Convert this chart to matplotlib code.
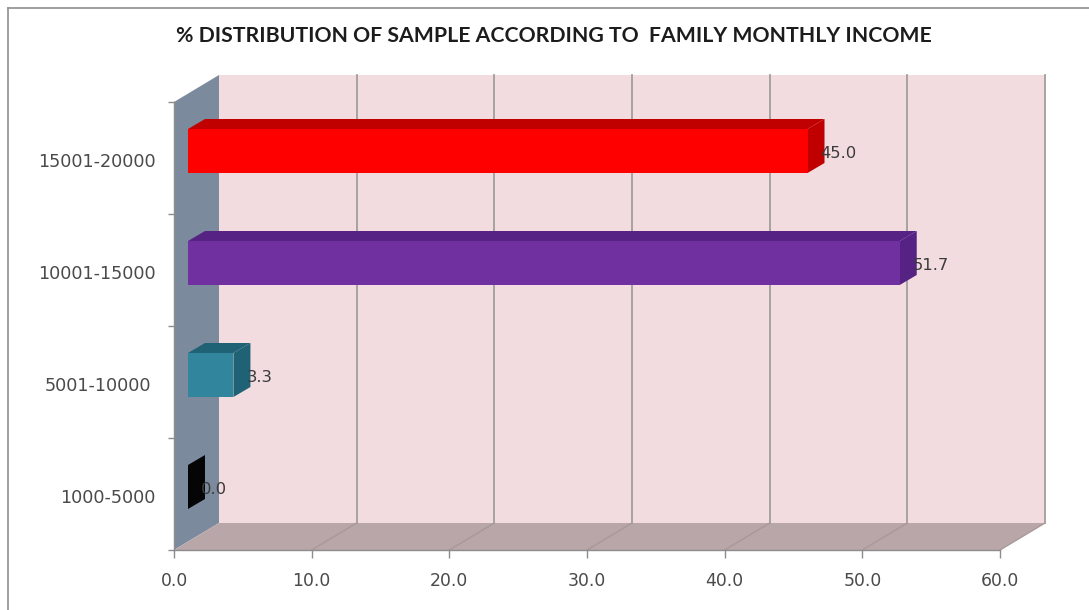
import matplotlib.pyplot as plt
from matplotlib.lines import Line2D

plt.rcParams['font.family'] = ['DejaVu Sans']

categories = ['1000-5000', '5001-10000', '10001-15000', '15001-20000']
values = [0.0, 3.3, 51.7, 45.0]
front_colours = ['#0a0a0a', '#31859c', '#7030a0', '#ff0000']
shade_colours = ['#050505', '#1f6175', '#562385', '#c00000']
x_ticks = [0, 10, 20, 30, 40, 50, 60]

W, H = 1089, 610
LEFT, RIGHT, TOP, BOTTOM = 174, 1000, 102, 550

fig = plt.figure(figsize=(W / 100, H / 100), dpi=100, facecolor='white')
ax = fig.add_axes([LEFT / W, 1 - BOTTOM / H, (RIGHT - LEFT) / W, (BOTTOM - TOP) / H])
ax.set_xlim(0, 60)
ax.set_ylim(0, 4)

# pixels to data units, the 3d depth is easier to think about in pixels
px = 60 / (RIGHT - LEFT)
py = 4 / (BOTTOM - TOP)
wall_dx, wall_dy = 45 * px, 27 * py
bar_dx, bar_dy = 17 * px, 10 * py
inset_x, inset_y = 14 * px, 7 * py
bar_h = 44 * py

wall = '#f3dcdf'
floor = '#b9a6a8'
side = '#7b8b9d'
grid = '#a09e9e'

# back wall, side wall and floor
ax.fill([wall_dx, 60 + wall_dx, 60 + wall_dx, wall_dx],
        [wall_dy, wall_dy, 4 + wall_dy, 4 + wall_dy],
        color=wall, lw=0, clip_on=False, zorder=1)
ax.fill([0, wall_dx, wall_dx, 0], [0, wall_dy, 4 + wall_dy, 4],
        color=side, lw=0, clip_on=False, zorder=1)
ax.fill([0, 60, 60 + wall_dx, wall_dx], [0, 0, wall_dy, wall_dy],
        color=floor, lw=0, clip_on=False, zorder=1)

for t in x_ticks[1:]:
    ax.plot([t + wall_dx, t + wall_dx], [wall_dy, 4 + wall_dy], color=grid,
            lw=1.3, clip_on=False, zorder=2)
    ax.plot([t, t + wall_dx], [0, wall_dy], color='#aa9899', lw=1.0,
            clip_on=False, zorder=2)

# bars, front face plus top and end faces
for i, (v, c, s) in enumerate(zip(values, front_colours, shade_colours)):
    x0 = inset_x
    x1 = v + inset_x
    y0 = i + 0.5 + inset_y - bar_h / 2
    y1 = y0 + bar_h
    ax.fill([x0, x1, x1 + bar_dx, x0 + bar_dx],
            [y1, y1, y1 + bar_dy, y1 + bar_dy], color=s, lw=0, clip_on=False, zorder=3)
    ax.fill([x1, x1 + bar_dx, x1 + bar_dx, x1],
            [y0, y0 + bar_dy, y1 + bar_dy, y1], color=s, lw=0, clip_on=False, zorder=3)
    ax.fill([x0, x1, x1, x0], [y0, y0, y1, y1], color=c, lw=0, clip_on=False, zorder=4)
    ax.annotate(f'{v:.1f}', xy=(v, i + 0.5), xytext=(27, 5), textcoords='offset pixels',
                ha='left', va='center', fontsize=11.8, color='#3a3a3a', zorder=5,
                annotation_clip=False)

for name in ['top', 'right']:
    ax.spines[name].set_visible(False)
for name in ['left', 'bottom']:
    ax.spines[name].set_color('#8c8c8c')
    ax.spines[name].set_linewidth(1.0)
    ax.spines[name].set_zorder(2)

ax.set_xticks(x_ticks)
ax.set_xticklabels([f'{t:.1f}' for t in x_ticks])
ax.set_yticks(range(5))
ax.set_yticklabels([])
ax.tick_params(axis='x', length=5.5, width=1, color='#8c8c8c', pad=10,
               labelsize=12.4, labelcolor='#4a4a4a')
ax.tick_params(axis='y', length=4, width=1, color='#8c8c8c')

# category labels sit a little unevenly
label_right = [-19, -23, -18, -18]
for i, name in enumerate(categories):
    ax.annotate(name, xy=(0, i + 0.5), xytext=(label_right[i], -4),
                textcoords='offset pixels', ha='right', va='center',
                fontsize=12.7, color='#4a4a4a', annotation_clip=False)

fig.text(553.5 / W, 1 - 36 / H, '% DISTRIBUTION OF SAMPLE ACCORDING TO  FAMILY MONTHLY INCOME',
         ha='center', va='center', fontsize=15.3, fontweight='bold',
         family='Lato', color='#1c1c1c')

# chart area border
fig.add_artist(Line2D([8 / W, 8 / W], [0, 1 - 8 / H], color='#8f8f8f', lw=1.2))
fig.add_artist(Line2D([8 / W, 1], [1 - 8 / H, 1 - 8 / H], color='#8f8f8f', lw=1.2))

plt.savefig('out.png', dpi=100)
